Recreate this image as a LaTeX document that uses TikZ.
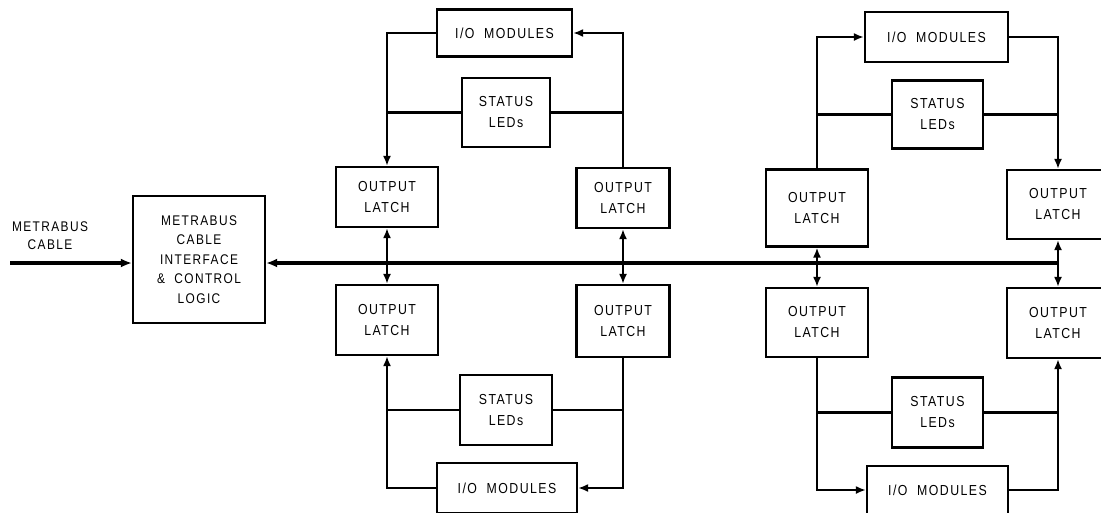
\documentclass[tikz,border=0pt]{standalone}
\usepackage{fontspec}
\newfontfamily\lblfont[FakeStretch=0.85,LetterSpace=10]{Liberation Sans}
\usetikzlibrary{arrows.meta}
\begin{document}
\begin{tikzpicture}[x=1pt,y=-1pt,
  blk/.style={draw,line width=2.2pt,align=center,inner sep=0pt,
    font={\lblfont\fontsize{14.5}{21}\selectfont}},
  conn/.style={line width=2.4pt},
  arr/.style={conn,-{Latex[length=10pt,width=8pt]}},
  darr/.style={conn,{Latex[length=10pt,width=8pt]}-{Latex[length=10pt,width=8pt]}},
  bus/.style={line width=3.2pt}]
\useasboundingbox (0,0) rectangle (1101,512);
% interface
\node[blk,minimum width=132pt,minimum height=127pt,font={\lblfont\fontsize{14}{19.5}\selectfont}] (ifc) at (199,259.5)
  {METRABUS\\CABLE\\INTERFACE\\\&\ \ CONTROL\\LOGIC};
\node[align=center,inner sep=0pt,font={\lblfont\fontsize{14}{18}\selectfont}] (lbl) at (50,236) {METRABUS\\CABLE};
\coordinate (cin) at (10,263);
\coordinate (busR) at (1058,263);
% left group
\node[blk,minimum width=135pt,minimum height=47pt] (io1) at (504.5,33) {I/O\ \ MODULES};
\node[blk,minimum width=88pt,minimum height=69pt] (st1) at (506,112.5) {STATUS\\LEDs};
\node[blk,minimum width=102pt,minimum height=60pt] (la1) at (387,197) {OUTPUT\\LATCH};
\node[blk,minimum width=93pt,minimum height=60pt] (lb1) at (623,198) {OUTPUT\\LATCH};
\node[blk,minimum width=102pt,minimum height=70pt] (la2) at (387,320) {OUTPUT\\LATCH};
\node[blk,minimum width=93pt,minimum height=72pt] (lb2) at (623,321) {OUTPUT\\LATCH};
\node[blk,minimum width=92pt,minimum height=70pt] (st2) at (506,410) {STATUS\\LEDs};
\node[blk,minimum width=140pt,minimum height=50pt] (io2) at (507,488) {I/O\ \ MODULES};
% right group
\node[blk,minimum width=143pt,minimum height=50pt] (io3) at (936.5,37) {I/O\ \ MODULES};
\node[blk,minimum width=91pt,minimum height=68pt] (st3) at (937.5,114.5) {STATUS\\LEDs};
\node[blk,minimum width=102pt,minimum height=77pt] (la3) at (817,208) {OUTPUT\\LATCH};
\node[blk,minimum width=102pt,minimum height=69pt] (lb3) at (1058,204.5) {OUTPUT\\LATCH};
\node[blk,minimum width=102pt,minimum height=69pt] (la4) at (817,322.5) {OUTPUT\\LATCH};
\node[blk,minimum width=102pt,minimum height=70pt] (lb4) at (1058,323) {OUTPUT\\LATCH};
\node[blk,minimum width=91pt,minimum height=70pt] (st4) at (937.5,412.5) {STATUS\\LEDs};
\node[blk,minimum width=141pt,minimum height=48pt] (io4) at (937.5,490) {I/O\ \ MODULES};
% bus and cable
\draw[bus,-{Latex[length=11pt,width=9pt]}] (cin) -- (ifc.west |- cin);
\draw[bus,-{Latex[length=11pt,width=9pt]}] (busR) -- (ifc.east |- busR);
\foreach \a/\b in {la1/la2,lb1/lb2,la3/la4,lb3/lb4}
  \draw[darr] (\a.south) -- (\b.north);
% left top
\draw[arr] (io1.west) -| (la1.north);
\draw[conn] (st1.west) -- (st1.west -| la1.north);
\draw[arr] (lb1.north) |- (io1.east);
\draw[conn] (st1.east) -- (st1.east -| lb1.north);
% left bottom
\draw[arr] (io2.west) -| (la2.south);
\draw[conn] (st2.west) -- (st2.west -| la2.south);
\draw[arr] (lb2.south) |- (io2.east);
\draw[conn] (st2.east) -- (st2.east -| lb2.south);
% right top
\draw[arr] (la3.north) |- (io3.west);
\draw[conn] (st3.west) -- (st3.west -| la3.north);
\draw[arr] (io3.east) -| (lb3.north);
\draw[conn] (st3.east) -- (st3.east -| lb3.north);
% right bottom
\draw[arr] (la4.south) |- (io4.west);
\draw[conn] (st4.west) -- (st4.west -| la4.south);
\draw[arr] (io4.east) -| (lb4.south);
\draw[conn] (st4.east) -- (st4.east -| lb4.south);
\end{tikzpicture}
\end{document}
